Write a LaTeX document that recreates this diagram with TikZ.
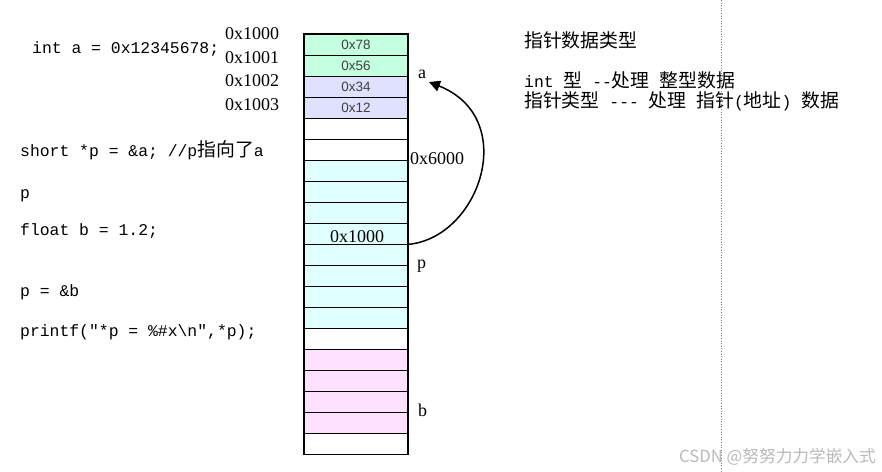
\documentclass[tikz,border=0pt]{standalone}
\usepackage{fontspec}
\setmainfont{Liberation Serif}
\setsansfont{Liberation Sans}
\newfontfamily\codefont{Liberation Mono}
\newfontfamily\cjk{Noto Sans CJK SC}[Scale=1.15]
\newcommand{\zh}[1]{{\cjk #1}}
\usetikzlibrary{arrows.meta,positioning}
\definecolor{mgreen}{HTML}{C4FFE0}
\definecolor{mlav}{HTML}{E0E0FF}
\definecolor{mcyan}{HTML}{E0FFFF}
\definecolor{mpink}{HTML}{FFE0FF}

\begin{document}
\begin{tikzpicture}[
    x=1pt, y=-1pt,
    cell/.style={draw, line width=0.8pt, minimum width=103pt, minimum height=21pt, inner sep=0pt,
        font=\sffamily\fontsize{13.5}{14}\selectfont, text=black!75},
    code/.style={anchor=base west, inner sep=0pt, font=\codefont\fontsize{16.4}{18}\selectfont},
    addr/.style={anchor=base west, inner sep=0pt, font=\fontsize{18}{20}\selectfont},
    lbl/.style={anchor=base west, inner sep=0pt, font=\fontsize{18}{20}\selectfont},
    arrow/.style={-{Triangle[length=11pt,width=11pt]}, line width=1.5pt},
]
\useasboundingbox (0,0) rectangle (882,471);

% memory cells
\foreach \i/\col/\txt in {1/mgreen/0x78, 2/mgreen/0x56, 3/mlav/0x34, 4/mlav/0x12,
    5/white/, 6/white/, 7/mcyan/, 8/mcyan/, 9/mcyan/, 10/mcyan/, 11/mcyan/, 12/mcyan/,
    13/mcyan/, 14/mcyan/, 15/white/, 16/mpink/, 17/mpink/, 18/mpink/, 19/mpink/, 20/white/}
    \node[cell, fill=\col] (c\i) at (356, {23.5+21*\i}) {\txt};
\draw[line width=1.8pt] (c1.north west) rectangle (c20.south east);

% addresses
\node[addr] (ad0) at (225,39) {0x1000};
\node[addr] (ad1) at (225,63) {0x1001};
\node[addr] (ad2) at (225,86) {0x1002};
\node[addr] (ad3) at (225,110) {0x1003};

% variable labels
\node[lbl] (la) at (418,78) {a};
\node[lbl] (lp) at (417,268) {p};
\node[lbl] (lb) at (418,416) {b};
\node[lbl] (val) at (410,164) {0x6000};
\node[lbl, anchor=base] (pval) at (357,242) {0x1000};
\coordinate (atip) at (429,82);

\draw[arrow] (c10.south east) .. controls (480,238) and (520,118) .. (atip);

% code
\node[code] (l1) at (32,53) {int a = 0x12345678;};
\node[code] (l2) at (20,156) {short *p = \&a; //p\zh{指向了}a};
\node[code] (l3) at (20,198) {p};
\node[code] (l4) at (20,235) {float b = 1.2;};
\node[code] (l5) at (20,296) {p = \&b};
\node[code] (l6) at (20,336) {printf("*p = \%\#x\textbackslash n",*p);};

% notes
\node[code] (n1) at (524,47) {\zh{指针数据类型}};
\node[code] (n2) at (524,87) {int \zh{型} --\zh{处理} \zh{整型数据}};
\node[code] (n3) at (524,107) {\zh{指针类型} --- \zh{处理} \zh{指针}(\zh{地址}) \zh{数据}};

\draw[gray, dotted, line width=0.6pt] (721,0) -- (721,471);

\node[anchor=base east, inner sep=0pt, text=gray!55, font=\cjk\fontsize{14.5}{15}\selectfont] (wm) at (876,462) {CSDN @努努力力学嵌入式};
\end{tikzpicture}
\end{document}
